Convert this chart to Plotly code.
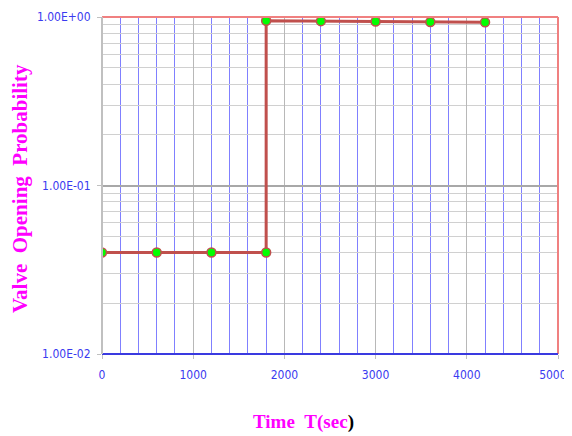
import plotly.graph_objects as go

# Data
time_sec = [0, 600, 1200, 1800, 1800, 2400, 3000, 3600, 4200]
prob = [0.04, 0.04, 0.04, 0.04, 0.95, 0.945, 0.94, 0.935, 0.93]
y_tickvals = [0.01, 0.1, 1.0]
y_ticktext = ["1.00E-02", "1.00E-01", "1.00E+00"]
x_tickvals = [0, 1000, 2000, 3000, 4000, 5000]
NB = "\u00a0"
x_ticktext = ["0", "1000", "2000", "3000", "4000", "5000" + NB * 3]

tick_font = dict(family="DejaVu Sans Condensed, Liberation Sans Narrow, DejaVu Sans, sans-serif",
                 size=12, color="#3a3af0")
title_font = dict(family="Liberation Serif, Times New Roman, serif", size=21, color="#ff00ff")

fig = go.Figure()
fig.add_trace(go.Scatter(
    x=time_sec, y=prob, mode="lines+markers",
    line=dict(color="#c0504d", width=3),
    marker=dict(symbol="circle", size=9, color="#00ff00",
                line=dict(color="#c0504d", width=1.5)),
    showlegend=False,
))

fig.update_layout(
    width=564, height=428,
    margin=dict(l=94, r=14, t=9, b=82, autoexpand=False),
    paper_bgcolor="white", plot_bgcolor="white",
    xaxis=dict(
        range=[0, 5000], tickvals=x_tickvals, ticktext=x_ticktext, tickfont=tick_font,
        automargin=False, ticklabelstandoff=6, ticklabeloverflow="allow",
        showgrid=True, gridcolor="#b8b8b8", gridwidth=1,
        minor=dict(dtick=200, showgrid=True, gridcolor="#8080ff", gridwidth=1),
        ticks="outside", ticklen=4, tickcolor="#c0c0c0",
        zeroline=False, showline=False,
    ),
    yaxis=dict(
        type="log", range=[-2, 0], tickvals=y_tickvals, ticktext=y_ticktext,
        tickfont=tick_font, automargin=False, ticklabelstandoff=4,
        showgrid=True, gridcolor="#a8a8a8", gridwidth=1.5,
        minor=dict(dtick="D1", showgrid=True, gridcolor="#d0d0d0", gridwidth=1),
        ticks="outside", ticklen=4, tickcolor="#c0c0c0",
        zeroline=False, showline=False,
    ),
    shapes=[
        dict(type="line", xref="paper", yref="paper", x0=0, x1=1, y0=1, y1=1,
             line=dict(color="#f08080", width=2)),
        dict(type="line", xref="paper", yref="paper", x0=1, x1=1, y0=0, y1=1,
             line=dict(color="#f08080", width=2)),
        dict(type="line", xref="paper", yref="paper", x0=0, x1=1, y0=0, y1=0,
             line=dict(color="#3a3ae0", width=2)),
        dict(type="line", xref="paper", yref="paper", x0=0, x1=0, y0=0, y1=1,
             line=dict(color="#c0c0c0", width=2)),
    ],
    annotations=[
        dict(text=f"<b>Valve{NB*2}Opening{NB*2}Probability</b>", xref="paper", yref="paper",
             x=-0.18, y=0.492, textangle=-90, showarrow=False, font=title_font,
             xanchor="center", yanchor="middle"),
        dict(text=f"<b>Time{NB*2}T(sec<span style='color:black'>)</span></b>",
             xref="paper", yref="paper", x=0.441, y=-0.202, showarrow=False,
             font=dict(title_font, size=19), xanchor="center", yanchor="middle"),
    ],
)

fig.write_html("out.html")
